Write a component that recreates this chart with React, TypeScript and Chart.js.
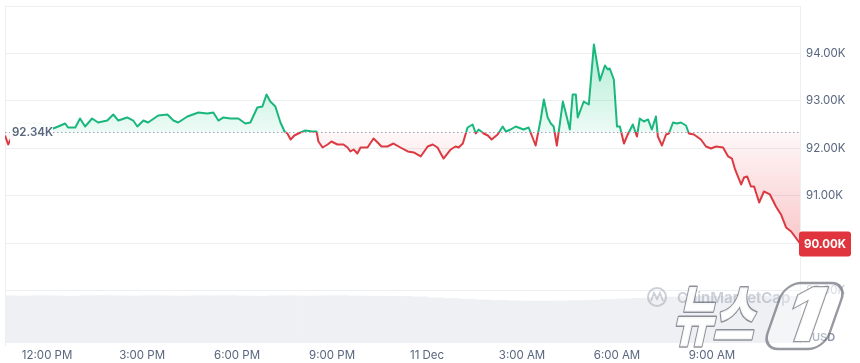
import React, { useEffect, useRef } from "react";
import { Chart, registerables } from "chart.js";

Chart.register(...registerables);

// Hours relative to 12:00 PM, 10 Dec
const hours = [
  -1.33, -1.23, -1.11, -0.98, -0.79, -0.54, -0.28, -0.06, 0.19, 0.35,
  0.57, 0.66, 0.89, 1.04, 1.2, 1.42, 1.61, 1.9, 2.09, 2.25,
  2.53, 2.72, 2.85, 3.04, 3.19, 3.51, 3.8, 3.99, 4.14, 4.43,
  4.78, 5.06, 5.25, 5.41, 5.57, 5.79, 6.04, 6.26, 6.42, 6.64,
  6.8, 6.93, 7.05, 7.21, 7.37, 7.5, 7.59, 7.69, 7.81, 8.0,
  8.16, 8.38, 8.51, 8.57, 8.7, 8.86, 8.98, 9.17, 9.36, 9.49,
  9.58, 9.68, 9.8, 9.9, 10.12, 10.31, 10.44, 10.56, 10.75, 10.94,
  11.16, 11.39, 11.58, 11.8, 12.02, 12.18, 12.33, 12.52, 12.75, 12.9,
  13.0, 13.13, 13.28, 13.44, 13.54, 13.63, 13.79, 13.92, 14.04, 14.23,
  14.39, 14.49, 14.64, 14.8, 15.05, 15.21, 15.43, 15.59, 15.69, 15.81,
  15.91, 16.0, 16.1, 16.29, 16.41, 16.51, 16.6, 16.7, 16.76, 16.95,
  17.11, 17.27, 17.46, 17.62, 17.71, 17.77, 17.9, 18.0, 18.09, 18.22,
  18.34, 18.5, 18.63, 18.72, 18.85, 18.98, 19.1, 19.23, 19.29, 19.42,
  19.55, 19.64, 19.77, 19.89, 20.02, 20.18, 20.27, 20.43, 20.65, 20.81,
  20.97, 21.13, 21.35, 21.51, 21.63, 21.73, 21.92, 22.01, 22.11, 22.23,
  22.33, 22.49, 22.64, 22.83, 23.02, 23.18, 23.34, 23.5, 23.78,
];

// BTC price in USD
const prices = [
  92274, 92084, 92253, 92526, 92547, 92526, 92547, 92484, 92421, 92463,
  92526, 92442, 92442, 92632, 92463, 92632, 92547, 92589, 92716, 92589,
  92653, 92589, 92463, 92589, 92547, 92695, 92716, 92589, 92547, 92674,
  92758, 92737, 92758, 92589, 92653, 92632, 92632, 92526, 92547, 92863,
  92884, 93137, 92989, 92884, 92547, 92358, 92316, 92189, 92274, 92337,
  92379, 92358, 92358, 92147, 92021, 92084, 92147, 92084, 92084, 92021,
  91937, 91979, 91895, 92021, 92021, 92211, 92126, 92042, 92042, 92105,
  92021, 91937, 91916, 91832, 92042, 92084, 92021, 91789, 91979, 92042,
  92021, 92105, 92442, 92505, 92316, 92400, 92316, 92274, 92189, 92295,
  92463, 92358, 92400, 92463, 92400, 92442, 92063, 92611, 93032, 92653,
  92526, 92463, 92063, 92989, 92674, 92400, 93137, 93137, 92653, 92989,
  92926, 94189, 93432, 93747, 93663, 93684, 93453, 92463, 92463, 92105,
  92295, 92505, 92253, 92632, 92568, 92611, 92400, 92674, 92253, 92063,
  92295, 92316, 92547, 92526, 92547, 92484, 92316, 92295, 92189, 92042,
  92000, 92042, 92021, 91832, 91789, 91558, 91242, 91389, 91411, 91200,
  91200, 90863, 91095, 91032, 90779, 90611, 90337, 90253, 90000,
];

const baselinePrice = 92340;
const lastPrice = 90000;

const volumeHours = [
  -1.25, -0.75, -0.25, 0.25, 0.75, 1.25, 1.75, 2.25, 2.75, 3.25,
  3.75, 4.25, 4.75, 5.25, 5.75, 6.25, 6.75, 7.25, 7.75, 8.25,
  8.75, 9.25, 9.75, 10.25, 10.75, 11.25, 11.75, 12.25, 12.75, 13.25,
  13.75, 14.25, 14.75, 15.25, 15.75, 16.25, 16.75, 17.25, 17.75, 18.25,
  18.75, 19.25, 19.75, 20.25, 20.75, 21.25, 21.75, 22.25, 22.75, 23.25,
  23.75,
];
const volumes = [
  4.9, 4.88, 4.92, 4.9, 4.87, 4.91, 4.93, 4.9, 4.89, 4.92,
  4.9, 4.88, 4.91, 4.9, 4.92, 4.89, 4.87, 4.9, 4.91, 4.88,
  4.9, 4.92, 4.89, 4.87, 4.86, 4.84, 4.8, 4.7, 4.62, 4.55,
  4.48, 4.42, 4.38, 4.36, 4.35, 4.37, 4.4, 4.45, 4.52, 4.58,
  4.65, 4.72, 4.78, 4.82, 4.84, 4.85, 4.86, 4.85, 4.86, 4.87,
  4.86,
];

const xTickHours = [0, 3, 6, 9, 12, 15, 18, 21];
const xTickLabels = ["12:00 PM", "3:00 PM", "6:00 PM", "9:00 PM", "11 Dec", "3:00 AM", "6:00 AM", "9:00 AM"];
const yTickValues = [89000, 90000, 91000, 92000, 93000, 94000, 95000];

const GREEN = "#1ab77c";
const RED = "#dc3a42";
const GRID = "#eceff2";
const TEXT = "#58667e";
const FONT = 'Inter, "Noto Sans", sans-serif';

const fmtK = (v: number) => (v / 1000).toFixed(2) + "K";

function splitGradient(chart: any, kind: "line" | "fill") {
  const { ctx, chartArea, scales } = chart;
  if (!chartArea || !scales.y) return kind === "line" ? GREEN : "rgba(22,199,132,0.2)";
  const yb = scales.y.getPixelForValue(baselinePrice);
  const h = chartArea.bottom - chartArea.top;
  const f = Math.min(Math.max((yb - chartArea.top) / h, 0), 1);
  const g = ctx.createLinearGradient(0, chartArea.top, 0, chartArea.bottom);
  if (kind === "line") {
    g.addColorStop(0, GREEN);
    g.addColorStop(f, GREEN);
    g.addColorStop(f, RED);
    g.addColorStop(1, RED);
  } else {
    const yLow = scales.y.getPixelForValue(lastPrice);
    const fl = Math.min(Math.max((yLow - chartArea.top) / h, f), 1);
    g.addColorStop(0, "rgba(22,199,132,0.45)");
    g.addColorStop(f, "rgba(22,199,132,0.08)");
    g.addColorStop(f, "rgba(234,57,67,0.04)");
    g.addColorStop(fl, "rgba(234,57,67,0.28)");
    g.addColorStop(1, "rgba(234,57,67,0.3)");
  }
  return g;
}

const overlayPlugin = {
  id: "overlay",
  beforeDatasetsDraw(chart: any) {
    const { ctx, chartArea } = chart;
    ctx.save();
    ctx.strokeStyle = GRID;
    ctx.lineWidth = 1;
    ctx.beginPath();
    ctx.moveTo(chartArea.left + 0.5, chartArea.top);
    ctx.lineTo(chartArea.left + 0.5, chartArea.bottom + 3);
    ctx.stroke();
    ctx.restore();
  },
  afterDatasetsDraw(chart: any) {
    const { ctx, chartArea, scales } = chart;
    const yb = Math.round(scales.y.getPixelForValue(baselinePrice)) + 0.5;
    ctx.save();
    ctx.setLineDash([1.5, 2.5]);
    ctx.strokeStyle = "#9aa3b2";
    ctx.lineWidth = 1;
    ctx.beginPath();
    ctx.moveTo(chartArea.left, yb);
    ctx.lineTo(chartArea.right, yb);
    ctx.stroke();
    ctx.setLineDash([]);
    ctx.fillStyle = "rgba(255,255,255,0.96)";
    ctx.fillRect(chartArea.left + 5, yb - 12, 43, 22);
    ctx.font = "600 11.5px " + FONT;
    ctx.fillStyle = TEXT;
    ctx.textAlign = "left";
    ctx.textBaseline = "middle";
    ctx.fillText(fmtK(baselinePrice), chartArea.left + 7, yb + 0.5);
    ctx.restore();
  },
  afterDraw(chart: any) {
    const { ctx, chartArea, scales } = chart;
    const R = chartArea.right;
    const B = chartArea.bottom;
    ctx.save();
    // current price tag
    const yp = scales.y.getPixelForValue(lastPrice);
    ctx.fillStyle = "#e0353f";
    ctx.beginPath();
    (ctx as any).roundRect(R - 1, yp - 12, 52, 25, 3);
    ctx.fill();
    ctx.fillStyle = "#ffffff";
    ctx.font = "700 11.5px " + FONT;
    ctx.textAlign = "center";
    ctx.textBaseline = "middle";
    ctx.fillText(fmtK(lastPrice), R + 25, yp + 1);

    // CoinMarketCap watermark
    const wc = "rgba(160,168,182,0.55)";
    ctx.strokeStyle = wc;
    ctx.lineWidth = 2;
    ctx.beginPath();
    ctx.arc(R - 143, B - 46, 9, 0, Math.PI * 2);
    ctx.stroke();
    ctx.lineWidth = 1.8;
    ctx.beginPath();
    ctx.moveTo(R - 149, B - 42);
    ctx.lineTo(R - 146, B - 50);
    ctx.lineTo(R - 143, B - 44);
    ctx.lineTo(R - 140, B - 50);
    ctx.lineTo(R - 137, B - 42);
    ctx.stroke();
    ctx.fillStyle = wc;
    ctx.font = "600 15px " + FONT;
    ctx.textAlign = "left";
    ctx.textBaseline = "middle";
    ctx.fillText("CoinMarketCap", R - 123, B - 45);

    // USD unit
    ctx.fillStyle = "#8a94a6";
    ctx.font = "600 11px " + FONT;
    ctx.fillText("USD", R + 12, B - 5);

    // News1 watermark
    ctx.save();
    ctx.translate(R - 128, B - 3);
    ctx.transform(1, 0, -0.22, 1, 0, 0);
    ctx.scale(1, 1.5);
    ctx.font = '900 44px "Noto Sans CJK KR"';
    ctx.lineJoin = "round";
    ctx.lineWidth = 2;
    ctx.strokeStyle = "rgba(105,110,120,0.75)";
    ctx.fillStyle = "rgba(255,255,255,0.92)";
    ctx.textAlign = "left";
    ctx.textBaseline = "alphabetic";
    ctx.strokeText("뉴스", 0, 0);
    ctx.fillText("뉴스", 0, 0);
    ctx.restore();

    ctx.save();
    ctx.translate(R - 38, B + 6);
    ctx.transform(1, 0, -0.35, 1, 0, 0);
    ctx.beginPath();
    (ctx as any).roundRect(0, -66, 62, 66, 16);
    ctx.fillStyle = "rgba(255,255,255,0.35)";
    ctx.fill();
    ctx.lineWidth = 2.5;
    ctx.strokeStyle = "rgba(105,110,120,0.7)";
    ctx.stroke();
    ctx.font = '900 74px ' + FONT;
    ctx.textAlign = "center";
    ctx.textBaseline = "alphabetic";
    ctx.lineWidth = 2.5;
    ctx.strokeText("1", 31, -8);
    ctx.fillStyle = "rgba(255,255,255,0.95)";
    ctx.fillText("1", 31, -8);
    ctx.restore();

    ctx.restore();
  },
};

export default function App() {
  const canvasRef = useRef<HTMLCanvasElement>(null);

  useEffect(() => {
    if (!canvasRef.current) return;
    Chart.defaults.font.family = FONT;
    Chart.defaults.font.size = 11;

    const priceData = hours.map((h, i) => ({ x: h, y: prices[i] }));
    const volData = volumeHours.map((h, i) => ({ x: h, y: volumes[i] }));

    const chart = new Chart(canvasRef.current, {
      type: "line",
      data: {
        datasets: [
          {
            type: "line",
            label: "Price",
            data: priceData,
            yAxisID: "y",
            order: 1,
            borderWidth: 2,
            pointRadius: 0,
            tension: 0,
            borderJoinStyle: "round",
            borderColor: (c: any) => splitGradient(c.chart, "line"),
            backgroundColor: (c: any) => splitGradient(c.chart, "fill"),
            fill: { target: { value: baselinePrice } },
          } as any,
          {
            type: "bar",
            label: "Volume",
            data: volData,
            yAxisID: "yv",
            order: 2,
            backgroundColor: "#eef0f3",
            borderWidth: 0,
            barPercentage: 1,
            categoryPercentage: 1,
          } as any,
        ],
      },
      options: {
        animation: false,
        responsive: false,
        devicePixelRatio: 1,
        layout: { padding: { top: 6, left: 5, right: 0, bottom: 0 } },
        plugins: { legend: { display: false }, tooltip: { enabled: false } },
        scales: {
          x: {
            type: "linear",
            min: -1.33,
            max: 23.78,
            offset: false,
            grid: { display: false, drawTicks: false },
            border: { display: false },
            afterBuildTicks: (s: any) => {
              s.ticks = xTickHours.map((v) => ({ value: v }));
            },
            afterFit: (s: any) => {
              s.height = 20;
              s.paddingLeft = 0;
              s.paddingRight = 0;
            },
            ticks: {
              autoSkip: false,
              maxRotation: 0,
              padding: 6,
              color: TEXT,
              font: { size: 11.5, family: FONT },
              callback: (v: any) => {
                const i = xTickHours.indexOf(Number(v));
                return i >= 0 ? xTickLabels[i] : "";
              },
            },
          },
          y: {
            type: "linear",
            position: "right",
            min: 87905,
            max: 95000,
            grid: { color: GRID, drawTicks: false },
            border: { display: true, color: GRID },
            afterBuildTicks: (s: any) => {
              s.ticks = yTickValues.map((v) => ({ value: v }));
            },
            afterFit: (s: any) => {
              s.width = 60;
              s.paddingTop = 0;
              s.paddingBottom = 0;
            },
            ticks: {
              padding: 6,
              font: { size: 11.5, family: FONT },
              color: (c: any) => (c.tick && c.tick.value === 89000 ? "#c3c8d0" : TEXT),
              callback: (v: any) => (Number(v) >= 95000 ? "" : fmtK(Number(v))),
            },
          },
          yv: {
            type: "linear",
            display: false,
            min: 0,
            max: 35,
          },
        },
      },
      plugins: [overlayPlugin],
    } as any);

    return () => chart.destroy();
  }, []);

  return (
    <div style={{ position: "absolute", left: 0, top: 0, width: 860, height: 363, background: "#ffffff" }}>
      <canvas ref={canvasRef} width={860} height={363} style={{ display: "block", width: 860, height: 363 }} />
    </div>
  );
}
